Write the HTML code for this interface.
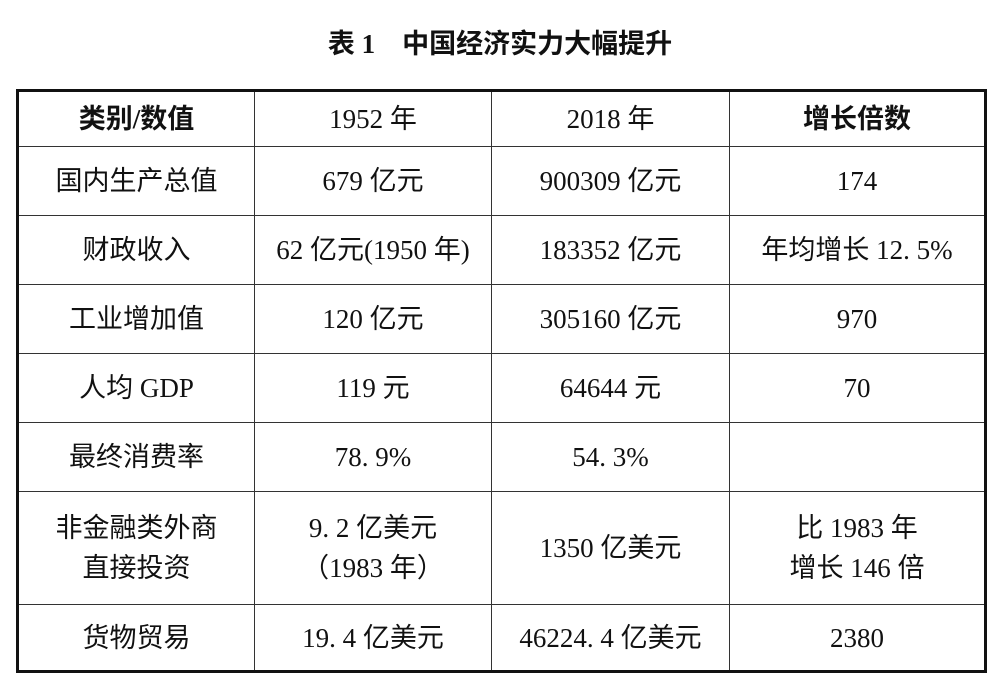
<!DOCTYPE html>
<html><head><meta charset="utf-8"><style>
body{margin:0;width:1000px;height:688px;background:#fff;font-family:"Liberation Serif","Noto Sans CJK SC",serif;color:#111;position:relative;overflow:hidden}
.t{position:absolute;left:0;width:1000px;top:22px;text-align:center;font-size:27px;font-weight:bold;font-family:"Liberation Serif","Noto Sans CJK SC",sans-serif}
table{position:absolute;left:16px;top:89px;border-collapse:collapse;border:3px solid #111}
td{border:1.5px solid #333;text-align:center;font-size:27px;padding:0;line-height:40px;white-space:nowrap}
td.b{font-weight:bold;font-family:"Liberation Serif","Noto Sans CJK SC",sans-serif}
</style></head><body>
<div class="t">表 1&nbsp;&nbsp;&nbsp;&nbsp;中国经济实力大幅提升</div>
<table>
<colgroup><col style="width:237px"><col style="width:237px"><col style="width:238px"><col style="width:256px"></colgroup>
<tr style="height:56px"><td class="b">类别/数值</td><td>1952 年</td><td>2018 年</td><td class="b">增长倍数</td></tr>
<tr style="height:69px"><td>国内生产总值</td><td>679 亿元</td><td>900309 亿元</td><td>174</td></tr>
<tr style="height:69px"><td>财政收入</td><td>62 亿元(1950 年)</td><td>183352 亿元</td><td>年均增长 12. 5%</td></tr>
<tr style="height:69px"><td>工业增加值</td><td>120 亿元</td><td>305160 亿元</td><td>970</td></tr>
<tr style="height:69px"><td>人均 GDP</td><td>119 元</td><td>64644 元</td><td>70</td></tr>
<tr style="height:69px"><td>最终消费率</td><td>78. 9%</td><td>54. 3%</td><td></td></tr>
<tr style="height:113px"><td>非金融类外商<br>直接投资</td><td>9. 2 亿美元<br>（1983 年）</td><td>1350 亿美元</td><td>比 1983 年<br>增长 146 倍</td></tr>
<tr style="height:67px"><td>货物贸易</td><td>19. 4 亿美元</td><td>46224. 4 亿美元</td><td>2380</td></tr>
</table>
</body></html>
